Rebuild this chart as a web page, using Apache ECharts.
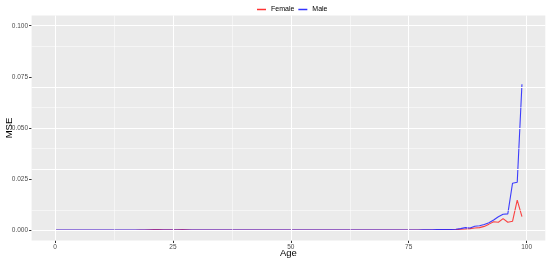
<!DOCTYPE html>
<html><head><meta charset="utf-8">
<script src="https://cdn.jsdelivr.net/npm/echarts@6/dist/echarts.min.js"></script>
<style>html,body{margin:0;padding:0;background:#fff}#c{width:550px;height:261px}</style>
</head><body><div id="c"></div>
<script>
const ages = [0,1,2,3,4,5,6,7,8,9,10,11,12,13,14,15,16,17,18,19,20,21,22,23,24,25,26,27,28,29,30,31,32,33,34,35,36,37,38,39,40,41,42,43,44,45,46,47,48,49,50,51,52,53,54,55,56,57,58,59,60,61,62,63,64,65,66,67,68,69,70,71,72,73,74,75,76,77,78,79,80,81,82,83,84,85,86,87,88,89,90,91,92,93,94,95,96,97,98,99];
const female = [0,0,0,0,0,0,0,0,0,0,0,0,0,0,0,0,0,0,0.0001,0.0001,
 0.0002,0.0003,0.0003,0.0002,0.0002,0.0002,0.0002,0.0003,0.0002,0.0001,
 0.0001,0.0001,0.0001,0.0001,0.0001,0.0001,0.0001,0.0001,0.0001,0.0001,
 0.0001,0.0001,0.0001,0.0001,0.0001,0.0001,0.0001,0.0001,0.0001,0.0001,
 0.0001,0.0001,0.0001,0.0001,0.0001,0.0001,0.0001,0.0001,0.0001,0.0001,
 0.0001,0.0001,0.0001,0.0001,0.0001,0.0001,0.0001,0.0001,0.0001,0.0001,
 0.0001,0.0001,0.0001,0.0001,0.0001,0.0001,0.0001,0.0001,0.0001,0.0001,
 0.0001,0.0001,0.0002,0.0002,0.0002,0.0003,0.0005,0.0006,0.0008,0.0011,
 0.0013,0.0019,0.0030,0.0042,0.0039,0.0057,0.0039,0.0044,0.0147,0.0067];
const male = [0.0001,0.0001,0.0001,0.0001,0.0001,0.0001,0.0001,0.0001,0.0001,0.0001,
 0.0001,0.0001,0.0001,0.0001,0.0001,0.0001,0.0001,0.0001,0.0001,0.0001,
 0.0001,0.0001,0.0001,0.0001,0.0001,0.0001,0.0001,0.0001,0.0001,0.0001,
 0.0001,0.0001,0.0001,0.0001,0.0001,0.0001,0.0001,0.0001,0.0001,0.0001,
 0.0001,0.0001,0.0001,0.0001,0.0001,0.0001,0.0001,0.0001,0.0001,0.0001,
 0.0001,0.0001,0.0001,0.0001,0.0001,0.0001,0.0001,0.0001,0.0001,0.0001,
 0.0001,0.0001,0.0001,0.0001,0.0001,0.0001,0.0001,0.0001,0.0001,0.0001,
 0.0001,0.0001,0.0001,0.0001,0.0001,0.0001,0.0001,0.0001,0.0002,0.0002,
 0.0002,0.0003,0.0003,0.0003,0.0004,0.0005,0.0008,0.0013,0.0011,0.0020,
 0.0022,0.0028,0.0037,0.0050,0.0066,0.0078,0.0080,0.0230,0.0235,0.0714];
const xTicks = [0,25,50,75,100];
const xMinor = [12.5,37.5,62.5,87.5];
const yTicks = [0,0.025,0.05,0.075,0.1];
const yMinor = [0.0125,0.0375,0.0625,0.0875];
const xRange = [-4.95,103.95];
const yRange = [-0.005,0.105];

const chart = echarts.init(document.getElementById('c'), null, {renderer:'canvas'});
const vline = (v,w)=>({xAxis:v, lineStyle:{color:'#ffffff',width:w,type:'solid'}});
const hline = (v,w)=>({yAxis:v, lineStyle:{color:'#ffffff',width:w,type:'solid'}});
chart.setOption({
  animation:false,
  textStyle:{fontFamily:'Liberation Sans, Arial, sans-serif'},
  legend:{
    top:1, left:252,
    data:['Female','Male'],
    icon:'rect', itemWidth:9, itemHeight:1.5, itemGap:4,
    textStyle:{fontSize:7, color:'#000', padding:[0,0,0,0]}
  },
  grid:{left:31.6, right:4.7, top:15.5, bottom:20.5, show:true, backgroundColor:'#EBEBEB', borderWidth:0,
        containLabel:false, outerBoundsMode:'none'},
  xAxis:{
    type:'value', min:xRange[0], max:xRange[1],
    name:'Age', nameLocation:'middle', nameGap:8, nameMoveOverlap:false,
    nameTextStyle:{fontSize:9.5, color:'#000'},
    axisLine:{show:false, onZero:false},
    axisTick:{show:true, length:2.5, lineStyle:{color:'#333'}, customValues:xTicks},
    axisLabel:{fontSize:6.5, color:'#4D4D4D', margin:3, customValues:xTicks},
    splitLine:{show:false}
  },
  yAxis:{
    type:'value', min:yRange[0], max:yRange[1],
    name:'MSE', nameLocation:'middle', nameGap:17.5, nameMoveOverlap:false,
    nameTextStyle:{fontSize:9.5, color:'#000'},
    axisLine:{show:false, onZero:false},
    axisTick:{show:true, length:2.5, lineStyle:{color:'#333'}, customValues:yTicks},
    axisLabel:{fontSize:6.5, color:'#4D4D4D', margin:3.5, customValues:yTicks, formatter:v=>v.toFixed(3)},
    splitLine:{show:false}
  },
  series:[
    {type:'line', name:'grid', data:[], silent:true, z:1,
     markLine:{silent:true, symbol:'none', label:{show:false}, animation:false,
       data:[...xMinor.map(v=>vline(v,0.5)), ...yMinor.map(v=>hline(v,0.5)),
             ...xTicks.map(v=>vline(v,1.1)), ...yTicks.map(v=>hline(v,1.1))]}},
    {type:'line', name:'Female', data:ages.map((a,i)=>[a,female[i]]), showSymbol:false, z:3,
     color:'#FF3333', lineStyle:{width:1.1, color:'rgba(255,0,0,0.72)'}},
    {type:'line', name:'Male', data:ages.map((a,i)=>[a,male[i]]), showSymbol:false, z:4,
     color:'#3333FF', lineStyle:{width:1.1, color:'rgba(30,30,255,0.85)'}}
  ]
});
</script></body></html>
